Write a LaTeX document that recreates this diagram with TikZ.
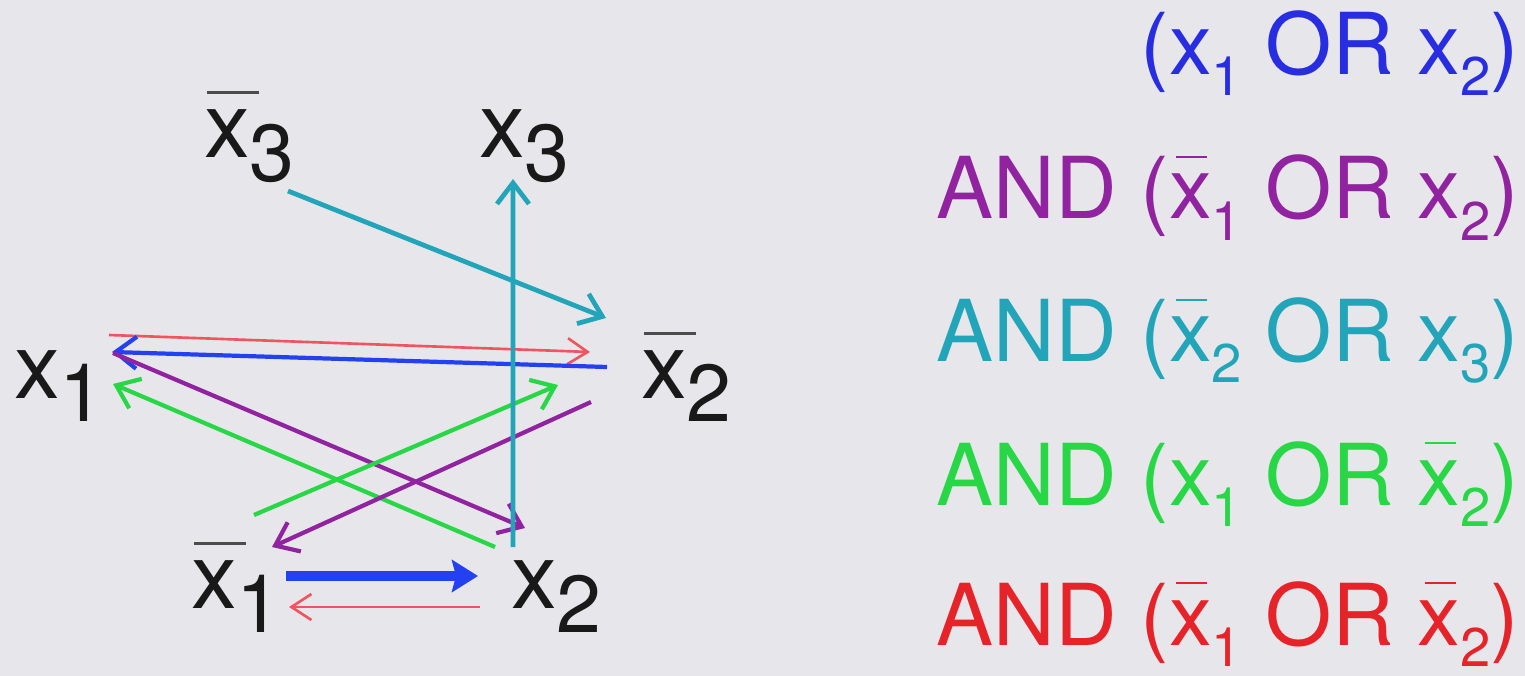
\documentclass[tikz,border=0pt]{standalone}
\usepackage{fontspec}
\setmainfont{TeX Gyre Heros}
\usetikzlibrary{arrows.meta}
\definecolor{bgpanel}{RGB}{231,231,235}
\definecolor{clblue}{RGB}{40,45,225}
\definecolor{arblue}{RGB}{35,65,240}
\definecolor{clpurple}{RGB}{145,35,160}
\definecolor{clcyan}{RGB}{35,165,185}
\definecolor{clgreen}{RGB}{40,215,70}
\definecolor{clred}{RGB}{230,35,40}
\definecolor{arred}{RGB}{240,85,95}
\newcommand{\lit}[1]{x\raisebox{-0.24cm}{\fontsize{23}{23}\selectfont #1}}
\newcommand{\nlit}[1]{\makebox[0pt][l]{\hspace{0.03cm}{\color{black!70}\rule[0.635cm]{0.52cm}{0.03cm}}}\lit{#1}}
\newcommand{\subd}[1]{\raisebox{-0.21cm}{\fontsize{15.5}{15.5}\selectfont #1}}
\newcommand{\negx}{\makebox[0pt][l]{\hspace{0.07cm}\rule[0.61cm]{0.31cm}{0.02cm}}x}
\begin{document}
\begin{tikzpicture}[
    lit/.style={inner sep=0pt, outer sep=0pt, anchor=base west, text=black!90, font=\fontsize{26}{26}\selectfont},
    clause/.style={inner sep=0pt, outer sep=0pt, anchor=base east, font=\fontsize{24.3}{24.3}\selectfont},
    arr/.style={-{Straight Barb[length=0.21cm,width=0.32cm]}, line width=1.2pt}]
    \fill[bgpanel] (0,0) rectangle (15.25,-6.76);
    \useasboundingbox (0,0) rectangle (15.25,-6.76);
    % literals
    \node[lit] (nx3) at (2.04,-1.58) {\nlit{3}};
    \node[lit] (x3) at (4.79,-1.58) {\lit{3}};
    \node[lit] (x1) at (0.14,-3.98) {\lit{1}};
    \node[lit] (nx2) at (6.41,-3.98) {\nlit{2}};
    \node[lit] (nx1) at (1.91,-6.08) {\nlit{1}};
    \node[lit] (x2) at (5.11,-6.08) {\lit{2}};
    % implications
    \draw[arr, clcyan, line width=1.35pt] ([shift={(0.84,-0.33)}]nx3.base west) -- ([shift={(-0.35,0.80)}]nx2.base west);
    \draw[arr, arred, line width=0.75pt, -{Straight Barb[length=0.2cm,width=0.26cm]}] ([shift={(0.95,0.63)}]x1.base west) -- ([shift={(-0.51,0.46)}]nx2.base west);
    \draw[arr, arblue] ([shift={(-0.34,0.31)}]nx2.base west) -- ([shift={(0.98,0.46)}]x1.base west);
    \draw[arr, clpurple] ([shift={(0.99,0.45)}]x1.base west) -- ([shift={(0.14,0.80)}]x2.base west);
    \draw[arr, clgreen] ([shift={(-0.16,0.61)}]x2.base west) -- ([shift={(0.99,0.14)}]x1.base west);
    \draw[arr, clgreen] ([shift={(0.63,0.93)}]nx1.base west) -- ([shift={(-0.83,0.13)}]nx2.base west);
    \draw[arr, clpurple] ([shift={(-0.50,-0.04)}]nx2.base west) -- ([shift={(0.81,0.61)}]nx1.base west);
    \draw[arr, clcyan, line width=1.35pt] ([shift={(0.02,0.61)}]x2.base west) -- ([shift={(0.34,-0.21)}]x3.base west);
    \draw[arblue, line width=2.9pt, -{Stealth[length=0.26cm,width=0.32cm,inset=0.04cm]}] ([shift={(0.95,0.32)}]nx1.base west) -- ([shift={(-0.33,0.32)}]x2.base west);
    \draw[arr, arred, line width=0.75pt, -{Straight Barb[length=0.2cm,width=0.26cm]}] ([shift={(-0.31,0.01)}]x2.base west) -- ([shift={(0.98,0.01)}]nx1.base west);
    % clauses
    \node[clause, text=clblue] (c1) at (15.19,-0.75) {(x\subd{1} OR x\subd{2})};
    \node[clause, text=clpurple] (c2) at (15.19,-2.19) {AND (\negx\subd{1} OR x\subd{2})};
    \node[clause, text=clcyan] (c3) at (15.19,-3.62) {AND (\negx\subd{2} OR x\subd{3})};
    \node[clause, text=clgreen] (c4) at (15.19,-5.05) {AND (x\subd{1} OR \negx\subd{2})};
    \node[clause, text=clred] (c5) at (15.19,-6.45) {AND (\negx\subd{1} OR \negx\subd{2})};
\end{tikzpicture}
\end{document}
